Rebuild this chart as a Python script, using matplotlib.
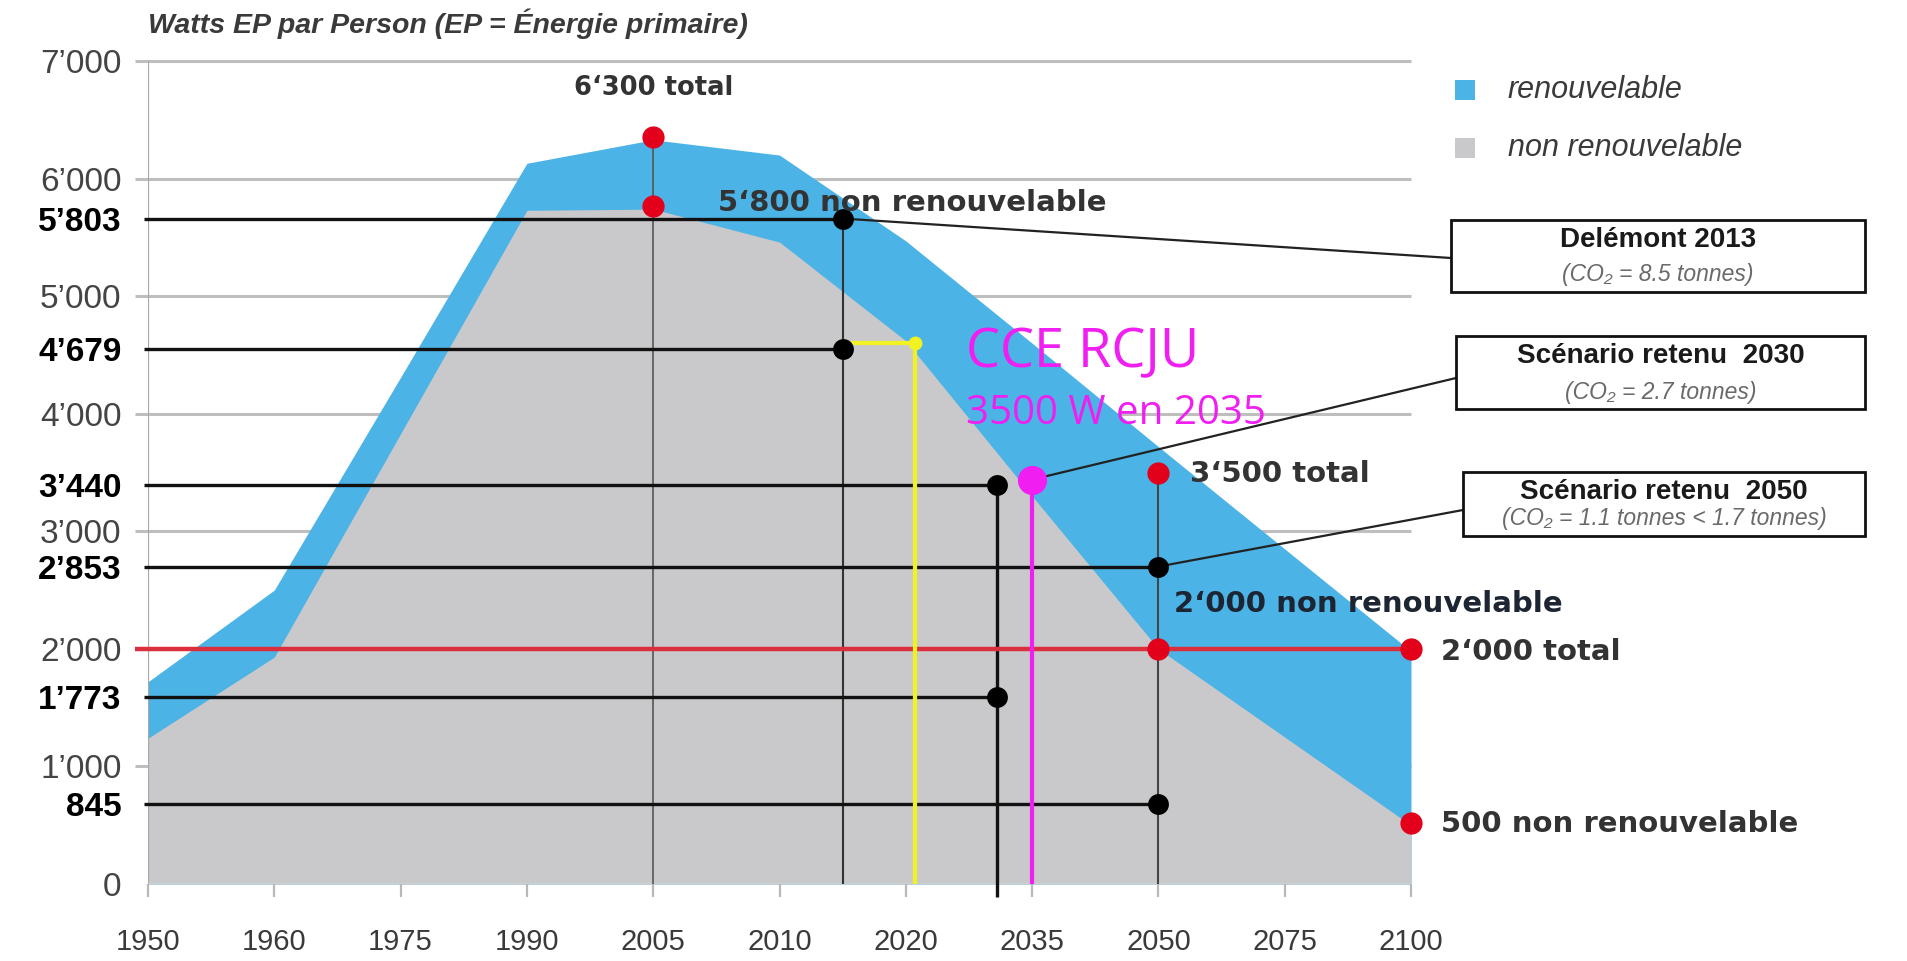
import matplotlib
matplotlib.use("Agg")
import matplotlib.pyplot as plt
from matplotlib import font_manager as fm
from matplotlib.patches import Rectangle

# ── Fonts ─────────────────────────────────────────────────────────────────────
_avail = {f.name for f in fm.fontManager.ttflist}
NARROW = (["Liberation Sans Narrow"] if "Liberation Sans Narrow" in _avail else []) \
    + ["Liberation Sans", "DejaVu Sans"]
ARIAL = ["Liberation Sans", "DejaVu Sans"]
VERDANA = ["DejaVu Sans"]
SEGOE = ["Open Sans", "DejaVu Sans"]

# ── Data ──────────────────────────────────────────────────────────────────────
years      = ["1950", "1960", "1975", "1990", "2005", "2010",
              "2020", "2035", "2050", "2075", "2100"]
total_w    = [1720, 2500, 4310, 6130, 6330, 6200, 5470, 4600, 3720, 2850, 1980]
nonrenew_w = [1240, 1930, 3830, 5730, 5740, 5460, 4620, 3300, 2000, 1250, 500]

grid_vals   = [0, 1000, 2000, 3000, 4000, 5000, 6000, 7000]
grid_labels = ["0", "1’000", "2’000", "3’000", "4’000", "5’000", "6’000", "7’000"]

# black reference lines: position on the chart, printed label, x where they stop
ref_vals   = [5660, 4550, 3390, 2700, 1590, 680]
ref_labels = ["5’803", "4’679", "3’440", "2’853", "1’773", "845"]
ref_x_end  = [5.5, 5.5, 6.72, 8, 6.72, 8]

red_x = [4, 4, 8, 8, 10, 10]
red_y = [6350, 5770, 3500, 2000, 2000, 520]

yellow_x, yellow_y = 6.07, 4600
cce_x, cce_y = 7.0, 3440
target_2000 = 2000

# ── Colours ───────────────────────────────────────────────────────────────────
BLUE    = "#4BB3E6"
GREYA   = "#C9C9CB"
GRID    = "#BEBEBE"
RED     = "#E2001A"
REDLINE = "#DC2F3E"
MAGENTA = "#F01EF0"
YELLOW  = "#F2F222"
TXT     = "#333333"

W, H = 1907, 961
def fx(p): return p / W
def fy(p): return 1 - p / H

fig = plt.figure(figsize=(W / 100, H / 100), dpi=100)
fig.patch.set_facecolor("white")
ax = fig.add_axes([fx(148), fy(884), fx(1411) - fx(148), fy(61) - fy(884)])
ax.set_xlim(0, 10)
ax.set_ylim(0, 7000)
for s in ax.spines.values():
    s.set_visible(False)

x = list(range(len(years)))

# grid + areas
ax.hlines(grid_vals[1:], -0.1, 10, color=GRID, lw=2.2, zorder=1, clip_on=False)
ax.fill_between(x, 0, total_w, color=BLUE, lw=0, zorder=2)
ax.fill_between(x, 0, nonrenew_w, color=GREYA, lw=0, zorder=3)

# axes lines and x ticks
ax.vlines(0, 0, 7000, color="#A8A8A8", lw=1.6, zorder=4)
ax.hlines(0, 0, 10, color="#D0D0D0", lw=2, zorder=4)
ax.vlines(x, -110, 0, color="#B8B8B8", lw=1.6, zorder=4, clip_on=False)

# thin vertical guides
ax.vlines(4, 0, red_y[0], color="#555555", lw=1.2, zorder=5)
ax.vlines(5.5, 0, ref_vals[0], color="#333333", lw=1.5, zorder=5)
ax.vlines(8, 0, red_y[2], color="#444444", lw=1.5, zorder=5)

# black reference lines
ax.hlines(ref_vals, -0.03, ref_x_end, color="#111111", lw=2.4, zorder=6,
          clip_on=False)
ax.vlines(6.72, -110, ref_vals[2], color="#111111", lw=2.4, zorder=6,
          clip_on=False)

# 2000 W target line
ax.hlines(target_2000, -0.1, 10, color=REDLINE, lw=3.2, zorder=7, clip_on=False)

# yellow marker
ax.plot([5.5, yellow_x, yellow_x], [yellow_y, yellow_y, 0], color=YELLOW,
        lw=3, zorder=7, solid_joinstyle="miter")
ax.plot(yellow_x, yellow_y, "o", color=YELLOW, ms=9, zorder=8)

# magenta CCE marker
ax.vlines(cce_x, 0, cce_y, color=MAGENTA, lw=3, zorder=7)
ax.plot(cce_x, cce_y, "o", color=MAGENTA, ms=21, mew=0, zorder=9)

# dots
ax.plot(ref_x_end, ref_vals, "o", color="black", ms=15, mew=0, zorder=9,
        clip_on=False)
ax.plot(red_x, red_y, "o", color=RED, ms=16, mew=0, zorder=9, clip_on=False)

# ── Ticks ─────────────────────────────────────────────────────────────────────
ax.set_xticks(x)
ax.set_xticklabels(years, family=NARROW, fontsize=21, color="#3a3a3a")
ax.tick_params(axis="x", length=0, pad=32)

ax.set_yticks(grid_vals + ref_vals)
ax.set_yticklabels(grid_labels + ref_labels)
ax.tick_params(axis="y", length=0, pad=19)
for lab in ax.get_yticklabels():
    lab.set_family(NARROW)
    lab.set_fontsize(24)
    if lab.get_text() in ref_labels:
        lab.set_color("black")
        lab.set_fontweight("bold")
    else:
        lab.set_color("#444444")

# ── Annotations ──────────────────────────────────────────────────────────────
bold = dict(family=VERDANA, fontweight="bold", fontsize=21, color=TXT,
            va="center", zorder=10)
ax.text(4.0, 6770, "6‘300 total", ha="center", **{**bold, "fontsize": 18.5})
ax.text(4.51, 5790, "5‘800 non renouvelable", ha="left", **bold)
ax.text(8.25, 3490, "3‘500 total", ha="left", **bold)
ax.text(8.12, 2380, "2‘000 non renouvelable", ha="left",
        **{**bold, "color": "#1d2533"})
ax.text(10.24, 1970, "2‘000 total", ha="left", clip_on=False, **bold)
ax.text(10.24, 510, "500 non renouvelable", ha="left", clip_on=False, **bold)

ax.text(6.48, 4520, "CCE RCJU", family=SEGOE, fontsize=39, color=MAGENTA,
        ha="left", va="center", zorder=10)
ax.text(6.48, 4000, "3500 W en 2035", family=SEGOE, fontsize=29,
        color=MAGENTA, ha="left", va="center", zorder=10)

fig.text(fx(148), fy(24), "Watts EP par Person (EP = Énergie primaire)",
         family=NARROW, style="italic", fontweight="bold", fontsize=20.5,
         color="#3a3a3a", ha="left", va="center")

# ── Boxes with connectors ────────────────────────────────────────────────────
boxes = [
    # (left, top, right, bottom, title, subtitle, anchor_y, point)
    (1451, 220, 1865, 292, "Delémont 2013", "(CO₂ = 8.5 tonnes)", 258,
     (5.5, ref_vals[0])),
    (1456, 336, 1865, 409, "Scénario retenu  2030", "(CO₂ = 2.7 tonnes)", 378,
     (cce_x, cce_y)),
    (1463, 472, 1865, 536, "Scénario retenu  2050",
     "(CO₂ = 1.1 tonnes < 1.7 tonnes)", 510, (8, ref_vals[3])),
]
for l, t, r, b, title, sub, ay, pt in boxes:
    fig.patches.append(Rectangle((fx(l), fy(b)), fx(r) - fx(l), fy(t) - fy(b),
                                 transform=fig.transFigure, fill=False,
                                 edgecolor="#111111", lw=2))
    cx = (l + r) / 2
    fig.text(fx(cx), fy(t + 20), title, family=ARIAL, fontweight="bold",
             fontsize=20, color="#1a1a1a", ha="center", va="center")
    fig.text(fx(cx), fy(b - 17), sub, family=ARIAL, style="italic",
             fontsize=16.5, color="#6a6a6a", ha="center", va="center")
    ax.annotate("", xy=pt, xycoords="data", xytext=(fx(l), fy(ay)),
                textcoords="figure fraction", annotation_clip=False,
                arrowprops=dict(arrowstyle="-", color="#222222", lw=1.6,
                                shrinkA=0, shrinkB=0), zorder=8)

# ── Legend (manual squares) ──────────────────────────────────────────────────
legend_items = [("renouvelable", BLUE, 90), ("non renouvelable", GREYA, 148)]
for name, col, yc in legend_items:
    fig.patches.append(Rectangle((fx(1455), fy(yc + 10)), fx(20), 20 / H,
                                 transform=fig.transFigure, color=col, lw=0))
    fig.text(fx(1508), fy(yc), name, family=NARROW, style="italic",
             fontsize=22, color="#3a3a3a", ha="left", va="center")

fig.savefig("out.png", dpi=100, facecolor="white")
plt.close(fig)
